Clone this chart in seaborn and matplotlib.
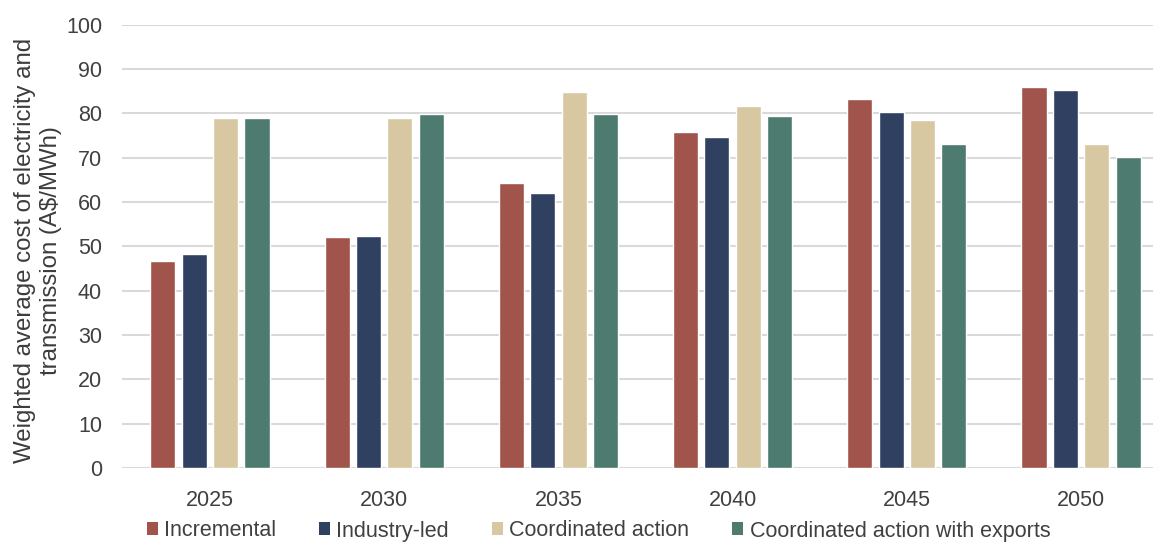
import matplotlib
matplotlib.use("Agg")
import matplotlib.pyplot as plt
from matplotlib.patches import Patch
import pandas as pd
import seaborn as sns

# Weighted average cost of electricity and transmission by scenario (A$/MWh)
years = ["2025", "2030", "2035", "2040", "2045", "2050"]
scenarios = ["Incremental", "Industry-led", "Coordinated action",
             "Coordinated action with exports"]
incremental = [46.7, 52.0, 64.4, 75.9, 83.2, 85.9]
industry_led = [48.3, 52.3, 62.1, 74.6, 80.2, 85.3]
coordinated = [79.0, 78.9, 84.8, 81.6, 78.4, 73.0]
coordinated_exports = [79.0, 79.8, 79.8, 79.5, 73.0, 70.2]

colors = ["#A0544B", "#2F4060", "#D7C8A1", "#4E7B70"]

rows = []
for name, vals in zip(scenarios, [incremental, industry_led, coordinated,
                                  coordinated_exports]):
    for yr, v in zip(years, vals):
        rows.append({"year": yr, "scenario": name, "value": v})
df = pd.DataFrame(rows)

sns.set_theme(style="white")
plt.rcParams["font.family"] = ["Liberation Sans", "DejaVu Sans"]

W, H = 1155, 543
fig = plt.figure(figsize=(W / 100, H / 100), dpi=100)
ax = fig.add_axes([122 / W, 1 - 468 / H, 1031 / W, 443.3 / H])

sns.barplot(data=df, x="year", y="value", hue="scenario", order=years,
            hue_order=scenarios, palette=colors, saturation=1,
            width=0.72, gap=0.2, ax=ax, legend=False)

ax.set_ylim(0, 100)
ax.set_yticks(range(0, 101, 10))
ax.set_xlim(-0.505, 5.413)
ax.yaxis.grid(True, color="#D9D9D9", linewidth=1.5)
ax.set_axisbelow(True)
for s in ax.spines.values():
    s.set_visible(False)

ax.tick_params(axis="y", length=0, pad=14.4, labelsize=15.5, labelcolor="#404040")
ax.tick_params(axis="x", length=0, pad=15.5, labelsize=15.5, labelcolor="#404040")
ax.set_xlabel("")
ax.set_ylabel("Weighted average cost of electricity and\ntransmission (A$/MWh)",
              fontsize=17.3, color="#3C3C3C", linespacing=1.18)
ax.yaxis.label.set_va("center")
ax.yaxis.set_label_coords((38 - 122) / 1031, 0.49)

handles = [Patch(facecolor=c, edgecolor="none") for c in colors]
fig.legend(handles, scenarios, loc="center", bbox_to_anchor=(598.5 / W, 1 - 531 / H),
           ncol=4, frameon=False, fontsize=15.5, handlelength=0.5,
           handleheight=0.55, handletextpad=0.3, columnspacing=2.0,
           borderpad=0, labelcolor="#404040")

fig.savefig("out.png", dpi=100)
